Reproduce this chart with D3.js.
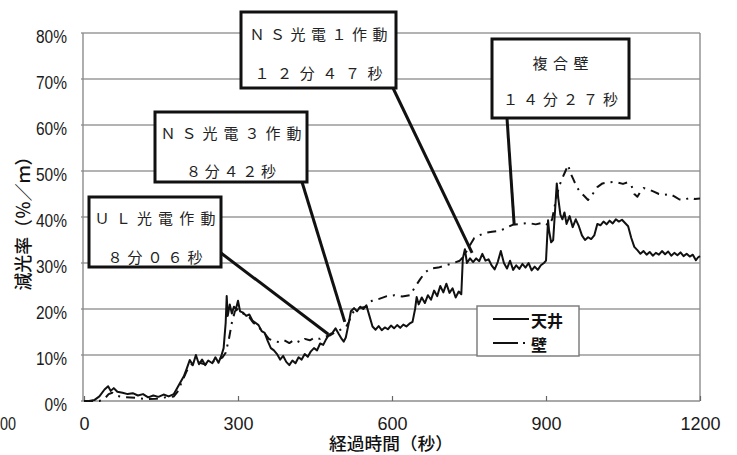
<!DOCTYPE html>
<html><head><meta charset="utf-8">
<script src="https://cdn.jsdelivr.net/npm/d3@7"></script>
<style>
html,body{margin:0;padding:0;background:#fff;}
svg{display:block;}
</style></head>
<body>
<svg id="chart" width="737" height="455"></svg>
<script>
// ---- data ----
const xTickValues = [0, 300, 600, 900, 1200];
const yTickValues = [0, 10, 20, 30, 40, 50, 60, 70, 80];
const xTitle = "経過時間（秒）";
const yTitle = "減光率（％／ｍ）";
const seriesNames = ["天井", "壁"];

const ceilingTime = [0,10,20,30,40,47,52,58,65,75,85,95,105,115,125,135,145,155,165,175,180,187,195,200,206,212,218,224,230,236,242,250,256,262,268,272,276,278,280,284,288,292,296,300,304,310,316,322,328,334,340,346,352,358,364,370,376,382,388,394,400,406,412,418,424,430,436,442,448,454,460,466,472,478,484,490,496,502,506,510,515,520,526,532,538,544,550,556,562,568,574,580,586,592,598,604,610,616,622,628,634,640,645,648,652,658,664,670,676,682,688,694,700,706,712,718,724,730,735,738,742,746,752,758,764,770,776,782,788,794,800,806,812,818,824,830,836,842,848,854,860,866,872,878,884,890,896,900,904,906,910,914,918,921,924,928,932,936,940,946,952,958,964,970,976,982,988,994,1000,1006,1012,1018,1024,1030,1036,1042,1048,1054,1060,1066,1072,1078,1084,1090,1096,1102,1108,1114,1120,1126,1132,1138,1144,1150,1156,1162,1168,1174,1180,1186,1192,1196,1200];
const ceilingValue = [0,0,0.2,1.0,2.5,3.2,2.2,2.8,2.0,1.8,1.5,1.7,1.2,1.5,0.8,1.2,0.9,1.4,1.0,1.5,2.5,3.9,5.5,7.0,8.9,7.8,10.0,8.0,9.0,7.8,8.8,8.2,9.5,8.3,10.0,11.5,17.0,22.8,18.5,21.0,19.0,20.5,20.0,21.8,19.5,19.2,18.5,18.8,17.5,17.0,16.5,15.2,14.8,13.0,11.5,11.0,10.2,9.0,9.8,8.5,7.8,8.8,8.2,9.5,9.0,10.2,9.6,10.8,11.5,11.0,12.5,12.2,13.5,14.5,14.8,15.8,14.6,13.5,12.9,13.8,16.5,19.5,20.2,19.5,20.5,20.0,20.8,18.5,16.2,15.5,16.3,15.4,16.0,15.6,16.4,15.8,16.5,15.9,16.6,16.2,16.8,17.2,20.0,22.6,21.0,22.5,21.3,23.0,22.0,24.0,22.8,25.0,23.6,25.5,23.5,24.5,22.5,23.8,23.2,31.0,33.0,30.0,31.0,30.2,31.0,30.4,32.0,30.5,30.8,29.5,28.6,30.2,32.6,30.0,28.8,30.5,28.5,29.5,28.7,29.8,29.0,30.0,28.4,29.2,28.5,29.5,30.0,30.5,39.3,37.0,34.5,35.0,42.0,47.3,44.0,40.5,39.5,41.0,38.5,40.2,37.8,39.5,38.0,36.0,35.0,35.6,35.2,36.0,38.5,38.2,39.0,38.4,39.2,38.6,39.5,39.0,39.4,38.7,38.0,35.5,33.5,32.8,32.0,32.6,31.8,32.4,31.6,32.2,31.8,32.6,31.9,32.5,31.6,32.2,31.7,32.3,31.5,32.0,31.4,31.8,30.6,31.2,31.5];

const wallTime = [0,30,40,48,55,62,70,80,100,120,140,160,175,182,190,200,210,220,235,250,262,270,276,282,288,294,300,310,320,330,340,350,360,370,380,390,400,410,420,430,440,450,460,470,480,490,500,510,516,522,530,540,550,556,565,575,590,605,620,635,645,655,665,675,690,705,720,732,740,750,760,770,780,795,810,820,835,850,865,880,895,905,912,918,925,932,938,943,948,954,960,966,975,982,988,994,1000,1010,1020,1030,1040,1050,1058,1066,1072,1078,1084,1090,1100,1110,1120,1130,1140,1150,1160,1170,1180,1190,1200];
const wallValue = [0,0,0.5,1.5,1.8,1.2,1.0,0.8,0.7,0.4,0.5,0.8,1.0,2.0,4.0,6.5,8.0,8.5,8.0,8.5,9.0,9.5,10.5,13.3,17.0,19.5,20.0,19.0,18.5,17.0,16.0,15.0,13.5,13.0,12.8,13.2,12.6,13.3,12.8,13.5,13.2,13.8,13.5,14.0,14.3,15.0,15.5,16.0,17.2,19.0,20.0,20.3,20.5,21.5,22.0,22.2,22.8,23.0,22.7,23.0,24.8,26.5,28.0,28.8,29.0,29.5,30.0,30.5,31.5,33.5,35.4,36.0,36.5,36.8,37.0,37.5,38.3,38.5,38.7,38.4,38.8,38.2,39.5,43.0,46.5,48.5,50.0,51.3,49.5,48.0,46.5,45.5,44.5,43.7,44.5,45.5,46.5,47.3,47.5,47.6,47.5,47.2,47.5,47.0,45.0,44.4,45.5,46.3,46.0,45.5,45.0,44.8,45.0,44.5,43.8,43.7,44.2,43.9,44.0];

const noteLine1 = ["ＵＬ光電作動", "ＮＳ光電３作動", "ＮＳ光電１作動", "複合壁"];
const noteLine2 = ["８分０６秒", "８分４２秒", "１２分４７秒", "１４分２７秒"];
const noteTime = [476, 508, 756, 838];
const noteValue = [14.5, 17.2, 32.2, 38.3];

// ---- layout (positions / styles) ----
const M = {left: 84, right: 700, top: 33, bottom: 401};
const boxLayout = [
  {x: 89,  y: 197, w: 132, h: 70, ax: 221, ay: 253, y1: 20, y2: 59, w1: 121, w2: 95},
  {x: 155, y: 112, w: 152, h: 70, ax: 302, ay: 182, y1: 20, y2: 58, w1: 141, w2: 90},
  {x: 241, y: 12,  w: 155, h: 76, ax: 393, ay: 88,  y1: 21, y2: 60, w1: 138, w2: 128},
  {x: 492, y: 39,  w: 137, h: 79, ax: 507, ay: 118, y1: 23, y2: 59, w1: 56,  w2: 115}
];

const svg = d3.select("#chart");
const x = d3.scaleLinear().domain([0, 1200]).range([M.left, M.right]);
const y = d3.scaleLinear().domain([0, 80]).range([M.bottom, M.top]);

const sansLatin = "'Liberation Sans', Arial, sans-serif";
const cjk = "'Noto Sans CJK JP', 'Noto Sans CJK SC', sans-serif";
const latinFirst = "'Liberation Sans', 'Noto Sans CJK JP', sans-serif";

// gridlines
svg.append("g").selectAll("line").data(yTickValues.filter(d => d > 0)).join("line")
  .attr("x1", M.left - 3).attr("x2", M.right)
  .attr("y1", d => y(d)).attr("y2", d => y(d))
  .attr("stroke", "#9a9a9a").attr("stroke-width", 1.4);

// axes frame
const frame = svg.append("g").attr("stroke", "#8c8c8c").attr("stroke-width", 1.4);
frame.append("line").attr("x1", M.left - 1).attr("x2", M.left - 1).attr("y1", M.top).attr("y2", M.bottom);
frame.append("line").attr("x1", M.right).attr("x2", M.right).attr("y1", M.top).attr("y2", M.bottom);
frame.append("line").attr("x1", M.left - 3).attr("x2", M.right).attr("y1", M.bottom).attr("y2", M.bottom);

// x axis via d3 axis
const xAxis = d3.axisTop(x).tickValues(xTickValues).tickSize(5).tickFormat(d3.format("d"));
const gx = svg.append("g").attr("transform", `translate(0,${M.bottom})`).call(xAxis);
gx.select(".domain").remove();
gx.selectAll(".tick line").attr("stroke", "#666").attr("stroke-width", 1.2);
gx.selectAll(".tick text").remove();
gx.selectAll(".tick").append("text")
  .attr("y", 29).attr("text-anchor", "middle")
  .attr("font-family", sansLatin).attr("font-size", 18).attr("fill", "#1a1a1a")
  .text(d => d);

// y axis labels
const yAxis = d3.axisLeft(y).tickValues(yTickValues).tickSize(0).tickFormat(d => d + "%");
const gy = svg.append("g").attr("transform", `translate(${M.left},0)`).call(yAxis);
gy.select(".domain").remove();
gy.selectAll(".tick text")
  .attr("x", -17).attr("dy", "0.5em")
  .attr("font-family", sansLatin).attr("font-size", 18).attr("fill", "#1a1a1a")
  .each(function(){ const L = this.getComputedTextLength(); this.setAttribute("textLength", (L*0.86).toFixed(1)); this.setAttribute("lengthAdjust", "spacingAndGlyphs"); });

// cropped neighbour label at far left
svg.append("text").attr("x", 0).attr("y", 430).attr("text-anchor", "start")
  .attr("font-family", sansLatin).attr("font-size", 18).attr("fill", "#1a1a1a")
  .attr("textLength", 16).attr("lengthAdjust", "spacingAndGlyphs").text("00");

// axis titles
svg.append("text").attr("x", 391).attr("y", 450).attr("text-anchor", "middle")
  .attr("font-family", latinFirst).attr("font-size", 17).attr("font-weight", 500).attr("fill", "#111")
  .attr("textLength", 124).attr("lengthAdjust", "spacingAndGlyphs").text(xTitle);
svg.append("text").attr("transform", "translate(30,219) rotate(-90)").attr("text-anchor", "middle")
  .attr("font-family", cjk).attr("font-size", 18).attr("font-weight", 500).attr("fill", "#111")
  .attr("textLength", 143).attr("lengthAdjust", "spacingAndGlyphs").text(yTitle);

// data lines
const line = d3.line().x(d => x(d[0])).y(d => y(d[1]));
const ceilingData = ceilingTime.map((t, i) => [t, ceilingValue[i]]);
const wallData = wallTime.map((t, i) => [t, wallValue[i]]);

svg.append("path").datum(wallData).attr("d", line)
  .attr("fill", "none").attr("stroke", "#111").attr("stroke-width", 2)
  .attr("stroke-dasharray", "9,6,2,6").attr("stroke-linejoin", "round");
svg.append("path").datum(ceilingData).attr("d", line)
  .attr("fill", "none").attr("stroke", "#111").attr("stroke-width", 2)
  .attr("stroke-linejoin", "round");

// annotations
const notes = noteLine1.map((l1, i) => ({l1, l2: noteLine2[i], t: noteTime[i], v: noteValue[i], b: boxLayout[i]}));
const gn = svg.append("g");
gn.selectAll("line").data(notes).join("line")
  .attr("x1", d => d.b.ax).attr("y1", d => d.b.ay)
  .attr("x2", d => x(d.t)).attr("y2", d => y(d.v))
  .attr("stroke", "#111").attr("stroke-width", 3);
const nb = gn.selectAll("g.box").data(notes).join("g").attr("class", "box");
nb.append("rect")
  .attr("x", d => d.b.x).attr("y", d => d.b.y).attr("width", d => d.b.w).attr("height", d => d.b.h)
  .attr("fill", "#fff").attr("stroke", "#111").attr("stroke-width", 3);
nb.append("text")
  .attr("x", d => d.b.x + d.b.w / 2).attr("y", d => d.b.y + d.b.y1)
  .attr("dominant-baseline", "central").attr("text-anchor", "middle")
  .attr("font-family", cjk).attr("font-size", 15).attr("fill", "#222")
  .attr("textLength", d => d.b.w1).attr("lengthAdjust", "spacing")
  .text(d => d.l1);
nb.append("text")
  .attr("x", d => d.b.x + d.b.w / 2).attr("y", d => d.b.y + d.b.y2)
  .attr("dominant-baseline", "central").attr("text-anchor", "middle")
  .attr("font-family", cjk).attr("font-size", 15).attr("fill", "#222")
  .attr("textLength", d => d.b.w2).attr("lengthAdjust", "spacing")
  .text(d => d.l2);

// legend
const lg = svg.append("g");
lg.append("rect").attr("x", 477).attr("y", 306).attr("width", 102).attr("height", 50)
  .attr("fill", "#fff").attr("stroke", "#777").attr("stroke-width", 1.4);
lg.append("line").attr("x1", 493).attr("x2", 529).attr("y1", 319).attr("y2", 319)
  .attr("stroke", "#111").attr("stroke-width", 2);
lg.append("line").attr("x1", 493).attr("x2", 527).attr("y1", 343).attr("y2", 343)
  .attr("stroke", "#111").attr("stroke-width", 2).attr("stroke-dasharray", "25,5,2,10");
lg.selectAll("text").data(seriesNames).join("text")
  .attr("x", 531).attr("y", (d, i) => 320 + i * 24)
  .attr("dominant-baseline", "central")
  .attr("font-family", cjk).attr("font-size", 16).attr("font-weight", 700).attr("fill", "#111")
  .text(d => d);
</script>
</body></html>
